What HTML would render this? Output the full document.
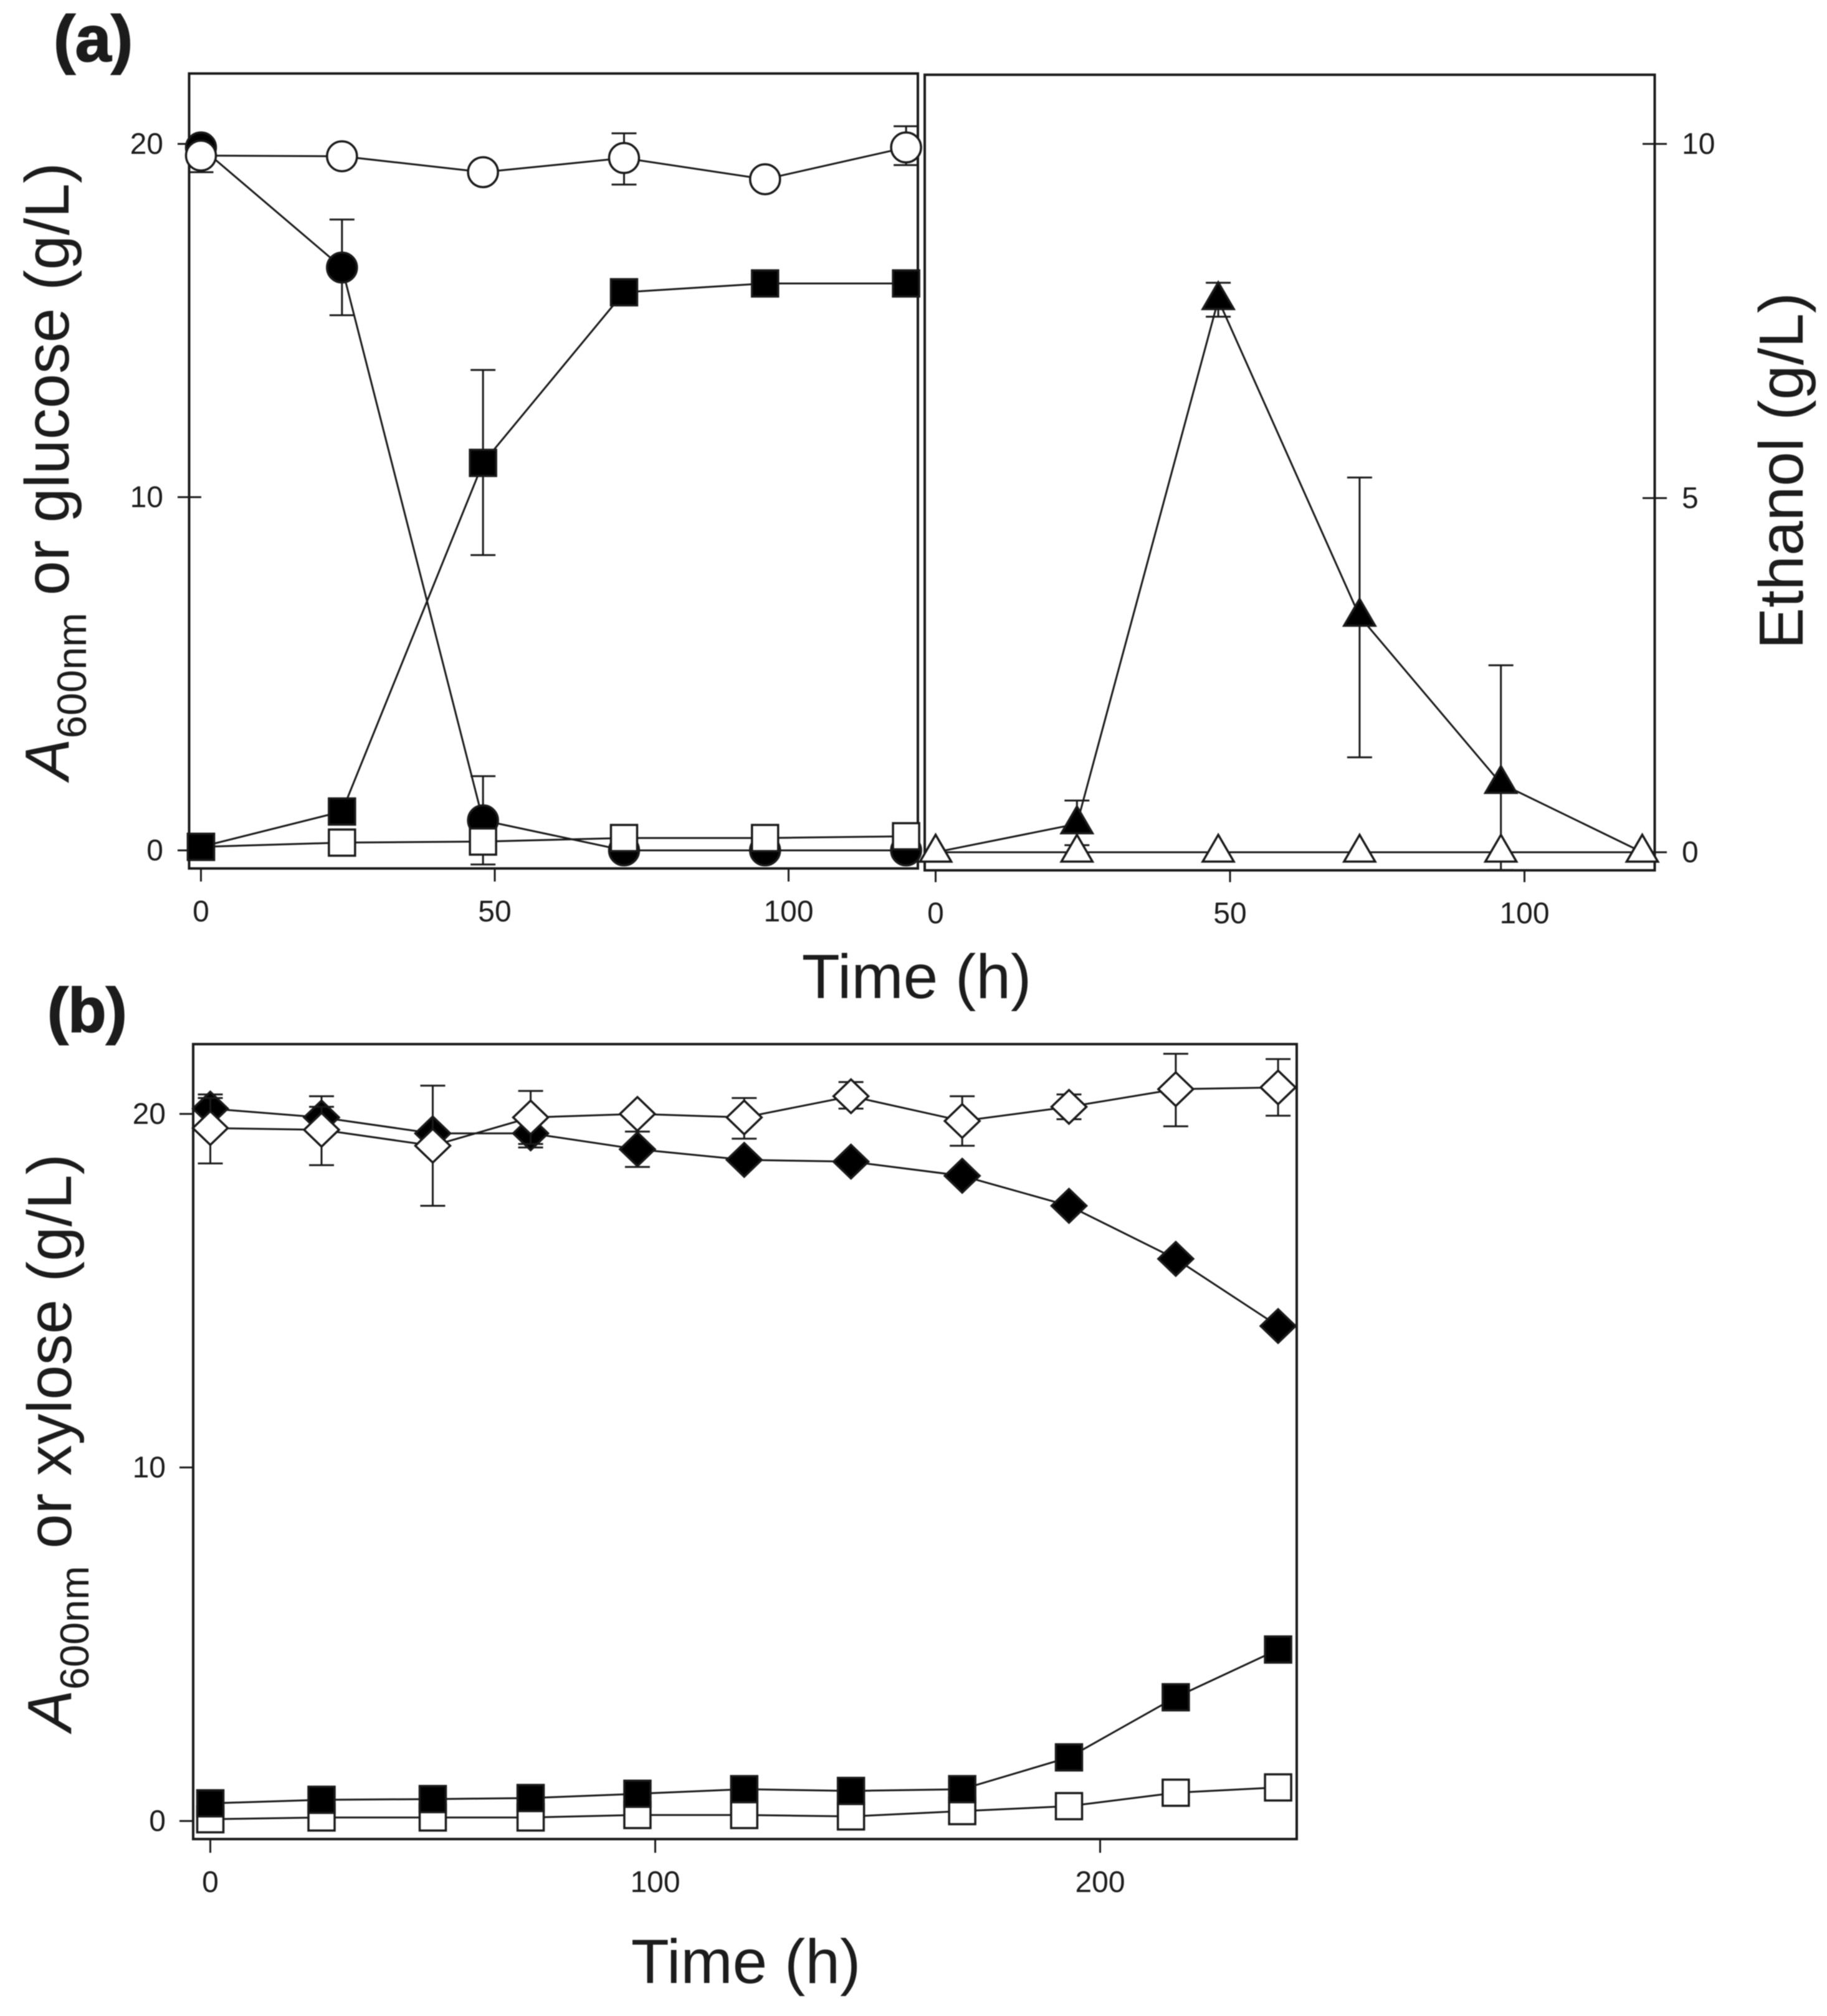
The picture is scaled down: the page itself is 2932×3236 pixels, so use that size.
<!DOCTYPE html>
<html>
<head>
<meta charset="utf-8">
<title>Fermentation time courses</title>
<style>
html,body{margin:0;padding:0;background:#fff;}
svg{display:block;filter:blur(0.7px);}
text{font-family:"Liberation Sans",sans-serif;fill:#1c1c1c;}
</style>
</head>
<body>
<svg id="chart" xmlns="http://www.w3.org/2000/svg" width="2932" height="3236" viewBox="0 0 2932 3236">
  <rect width="2932" height="3236" fill="#fff"/>
  <text x="86" y="98" font-size="104" font-weight="bold" stroke="#1c1c1c" stroke-width="2">(a)</text>
  <text x="76" y="1656" font-size="100" font-weight="bold" stroke="#1c1c1c" stroke-width="2">(b)</text>
  <text x="1471" y="1602" font-size="100" text-anchor="middle">Time (h)</text>
  <text x="1197" y="3183" font-size="100" text-anchor="middle">Time (h)</text>
  <text transform="translate(110,1252) rotate(-90)" font-size="100"><tspan font-style="italic">A</tspan><tspan font-size="66" dy="28">600nm</tspan><tspan dy="-28"> or glucose (g/L)</tspan></text>
  <text transform="translate(2893,1042) rotate(-90)" font-size="100">Ethanol (g/L)</text>
  <text transform="translate(114,2779) rotate(-90)" font-size="100"><tspan font-style="italic">A</tspan><tspan font-size="65" dy="28">600nm</tspan><tspan dy="-28"> or xylose (g/L)</tspan></text>
  <g id="plots"></g>
</svg>
<script>
// Panel (a) left: time in hours, values in g/L
const timeA = [0, 24, 48, 72, 96, 120];
const glucose = [19.9, 16.5, 0.85, 0, 0, 0];
const glucoseHi = [null, 17.86, 2.1, null, null, null];
const glucoseLo = [null, 15.15, -0.4, null, null, null];
const glucoseCtl = [19.67, 19.65, 19.2, 19.6, 19.0, 19.9];
const glucoseCtlHi = [null, null, null, 20.3, null, 20.5];
const glucoseCtlLo = [19.2, null, null, 18.85, null, 19.4];
const growthGluOpen = [0.1, 0.22, 0.25, 0.35, 0.35, 0.4];
const growthGlu = [0.1, 1.1, 10.97, 15.8, 16.05, 16.05];
const growthGluHi = [null, null, 13.6, null, null, null];
const growthGluLo = [null, null, 8.36, null, null, null];

// Panel (a) right: ethanol, g/L
const ethanol = [0, 0.4, 7.8, 3.33, 0.97, 0];
const ethanolHi = [null, 0.73, 8.04, 5.29, 2.64, null];
const ethanolLo = [null, 0.1, 7.56, 1.34, -0.25, null];
const ethanolCtl = [0, 0, 0, 0, 0, 0];

// Panel (b)
const timeB = [0, 25, 50, 72, 96, 120, 144, 169, 193, 217, 240];
const xylose = [20.15, 19.9, 19.45, 19.45, 19.0, 18.7, 18.65, 18.25, 17.4, 15.9, 14.0];
const xyloseHi = [20.55, 20.5, null, null, 19.5, null, null, null, null, null, null];
const xyloseLo = [null, null, null, 19.05, 18.5, null, null, null, null, null, null];
const xyloseCtl = [19.6, 19.55, 19.1, 19.9, 20.0, 19.9, 20.5, 19.8, 20.2, 20.7, 20.75];
const xyloseCtlHi = [20.45, 20.2, 20.8, 20.65, null, 20.45, 20.9, 20.5, 20.55, 21.7, 21.55];
const xyloseCtlLo = [18.6, 18.55, 17.4, 19.15, null, 19.3, 20.15, 19.1, 19.85, 19.65, 19.95];
const growthXylOpen = [0.05, 0.1, 0.1, 0.1, 0.17, 0.17, 0.13, 0.28, 0.42, 0.8, 0.95];
const growthXyl = [0.5, 0.6, 0.62, 0.65, 0.77, 0.9, 0.85, 0.9, 1.8, 3.5, 4.85];

// Tick labels
const ticksXA = [0, 50, 100];
const ticksYLeftA = [0, 10, 20];
const ticksYRightA = [0, 5, 10];
const ticksXB = [0, 100, 200];
const ticksYB = [0, 10, 20];

// Axis functions
function xLeftA(h) { return 322.5 + h * 9.43; }
function yLeftA(v) { return 1365 - v * 56.7; }
function xRightA(h) { return 1501.5 + h * 9.45; }
function yRightA(v) { return 1368 - v * 113.7; }
function xB(h) { return 337.5 + h * 7.14; }
function yB(v) { return 2923 - v * 56.75; }

const NS = 'http://www.w3.org/2000/svg';
const root = document.getElementById('plots');
const INK = '#1a1a1a';

function make(tag, parent, name) {
  const el = document.createElementNS(NS, tag);
  
  
  parent.appendChild(el);
  return el;
}
function line(parent, name, x1, y1, x2, y2, w) {
  const l = make('line', parent, name);
  l.setAttribute('x1', x1);
  l.setAttribute('y1', y1);
  l.setAttribute('x2', x2);
  l.setAttribute('y2', y2);
  l.setAttribute('stroke', INK);
  l.setAttribute('stroke-width', w || 3);
  return l;
}
function label(parent, name, x, y, anchor, str) {
  const t = make('text', parent, name);
  t.setAttribute('x', x);
  t.setAttribute('y', y);
  t.setAttribute('text-anchor', anchor);
  t.setAttribute('font-size', '48');
  t.textContent = str;
  return t;
}
function marker(parent, name, shape, cx, cy, filled) {
  let m;
  if (shape === 'circle') {
    m = make('circle', parent, name);
    m.setAttribute('cx', cx);
    m.setAttribute('cy', cy);
    m.setAttribute('r', 24);
  } else if (shape === 'square') {
    m = make('rect', parent, name);
    m.setAttribute('x', cx - 21);
    m.setAttribute('y', cy - 21);
    m.setAttribute('width', 42);
    m.setAttribute('height', 42);
  } else if (shape === 'diamond') {
    m = make('polygon', parent, name);
    m.setAttribute('points', [cx, cy - 27, cx + 28, cy, cx, cy + 27, cx - 28, cy].join(' '));
  } else {
    m = make('polygon', parent, name);
    m.setAttribute('points', [cx, cy - 28, cx + 25, cy + 15, cx - 25, cy + 15].join(' '));
  }
  m.setAttribute('fill', filled ? '#000' : '#fff');
  m.setAttribute('stroke', INK);
  m.setAttribute('stroke-width', 3.5);
  return m;
}
function series(parent, name, xs, ys, hi, lo, fx, fy, shape, filled) {
  const g = make('g', parent, name);
  if (hi || lo) {
    xs.forEach(function (h, i) {
      const px = fx(h);
      const top = hi && hi[i] !== null ? hi[i] : ys[i];
      const bot = lo && lo[i] !== null ? lo[i] : ys[i];
      if (top !== ys[i] || bot !== ys[i]) {
        line(g, name + '-error-bar', px, fy(top), px, fy(bot), 3);
      }
      if (top !== ys[i]) {
        line(g, name + '-error-cap', px - 20, fy(top), px + 20, fy(top), 3);
      }
      if (bot !== ys[i]) {
        line(g, name + '-error-cap', px - 20, fy(bot), px + 20, fy(bot), 3);
      }
    });
  }
  const pl = make('polyline', g, name + '-line');
  pl.setAttribute('points', xs.map(function (h, i) { return fx(h) + ',' + fy(ys[i]); }).join(' '));
  pl.setAttribute('fill', 'none');
  pl.setAttribute('stroke', INK);
  pl.setAttribute('stroke-width', 3);
  xs.forEach(function (h, i) {
    marker(g, name + '-marker', shape, fx(h), fy(ys[i]), filled);
  });
}
function frame(parent, name, x, y, w, h) {
  const r = make('rect', parent, name);
  r.setAttribute('x', x);
  r.setAttribute('y', y);
  r.setAttribute('width', w);
  r.setAttribute('height', h);
  r.setAttribute('fill', 'none');
  r.setAttribute('stroke', INK);
  r.setAttribute('stroke-width', 4);
  return r;
}

// Panel (a) left
const gA = make('g', root, 'panel-a-left');
frame(gA, 'panel-a-left-frame', 303.5, 118, 1169.5, 1276);
ticksXA.forEach(function (t) {
  line(gA, 'x-tick', xLeftA(t), 1394, xLeftA(t), 1415, 3);
  label(gA, 'x-tick-label', xLeftA(t), 1479, 'middle', String(t));
});
ticksYLeftA.forEach(function (t) {
  line(gA, 'y-tick', 285, yLeftA(t), 323, yLeftA(t), 3);
  label(gA, 'y-tick-label', 262, yLeftA(t) + 16, 'end', String(t));
});
series(gA, 'glucose-series', timeA, glucose, glucoseHi, glucoseLo, xLeftA, yLeftA, 'circle', true);
series(gA, 'glucose-control-series', timeA, glucoseCtl, glucoseCtlHi, glucoseCtlLo, xLeftA, yLeftA, 'circle', false);
series(gA, 'growth-control-series', timeA, growthGluOpen, null, null, xLeftA, yLeftA, 'square', false);
series(gA, 'growth-series', timeA, growthGlu, growthGluHi, growthGluLo, xLeftA, yLeftA, 'square', true);

// Panel (a) right
const gR = make('g', root, 'panel-a-right');
frame(gR, 'panel-a-right-frame', 1484, 120, 1171.5, 1277);
ticksXA.forEach(function (t) {
  line(gR, 'x-tick', xRightA(t), 1397, xRightA(t), 1416, 3);
  label(gR, 'x-tick-label', xRightA(t), 1482, 'middle', String(t));
});
ticksYRightA.forEach(function (t) {
  line(gR, 'y-tick', 2636, yRightA(t), 2675, yRightA(t), 3);
  label(gR, 'y-tick-label', 2699, yRightA(t) + 16, 'start', String(t));
});
series(gR, 'ethanol-series', timeA, ethanol, ethanolHi, ethanolLo, xRightA, yRightA, 'triangle', true);
series(gR, 'ethanol-control-series', timeA, ethanolCtl, null, null, xRightA, yRightA, 'triangle', false);

// Panel (b)
const gB = make('g', root, 'panel-b');
frame(gB, 'panel-b-frame', 310, 1676, 1771, 1276);
ticksXB.forEach(function (t) {
  line(gB, 'x-tick', xB(t), 2952, xB(t), 2974, 3);
  label(gB, 'x-tick-label', xB(t), 3037, 'middle', String(t));
});
ticksYB.forEach(function (t) {
  line(gB, 'y-tick', 288, yB(t), 310, yB(t), 3);
  label(gB, 'y-tick-label', 266, yB(t) + 16, 'end', String(t));
});
series(gB, 'xylose-series', timeB, xylose, xyloseHi, xyloseLo, xB, yB, 'diamond', true);
series(gB, 'xylose-control-series', timeB, xyloseCtl, xyloseCtlHi, xyloseCtlLo, xB, yB, 'diamond', false);
series(gB, 'growth-xylose-control-series', timeB, growthXylOpen, null, null, xB, yB, 'square', false);
series(gB, 'growth-xylose-series', timeB, growthXyl, null, null, xB, yB, 'square', true);
</script>
</body>
</html>
